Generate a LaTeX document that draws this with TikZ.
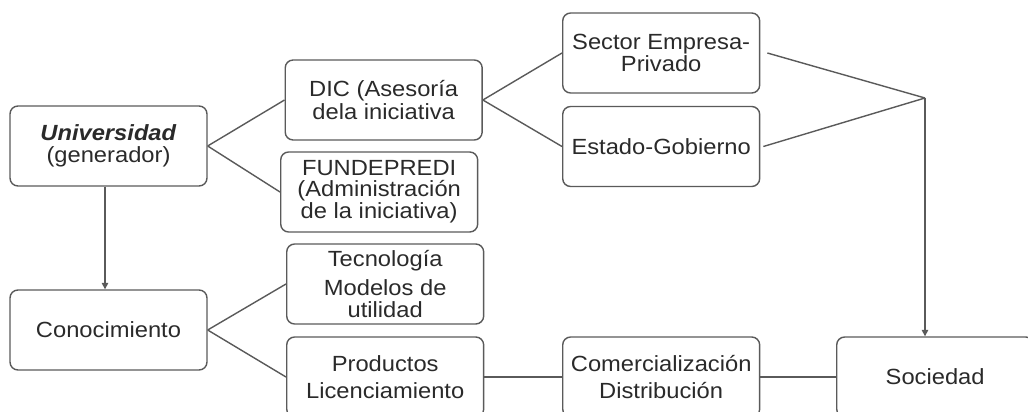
\documentclass[tikz,border=0pt]{standalone}
\usepackage{fontspec}
\setmainfont[FakeStretch=1.08]{Liberation Sans}
\usetikzlibrary{arrows.meta}
\definecolor{linegray}{HTML}{5A5A5A}
\definecolor{textgray}{HTML}{2A2A2A}

\begin{document}
\begin{tikzpicture}[x=0.02cm,y=-0.02cm,
    box/.style={draw=linegray,line width=0.8pt,rounded corners=4.5pt,align=center,
        minimum width=3.94cm,minimum height=1.6cm,inner sep=1pt,text=textgray,
        font=\fontsize{12.5}{11.6}\selectfont},
    link/.style={draw=linegray,line width=0.8pt},
    arr/.style={link,-{Triangle[length=3.6pt,width=3.6pt]}}]
    \useasboundingbox (0,0) rectangle (1028,412);
    \clip (0,0) rectangle (1028,412);
    % left column
    \node[box] (univ) at (108.5,146) {\textbf{\textit{Universidad}}\\[1pt](generador)};
    \node[box] (conoc) at (108.5,330) {Conocimiento};
    % second column
    \node[box] (dic) at (284.5,100)[anchor=west] {DIC (Asesoría\\dela iniciativa};
    \node[box] (funde) at (280,192)[anchor=west] {FUNDEPREDI\\(Administración\\de la iniciativa)};
    \node[box] (tecno) at (286,284)[anchor=west] {Tecnología\\[4pt]Modelos de\\[0.5pt]utilidad};
    \node[box] (produ) at (286,377)[anchor=west] {Productos\\[4pt]Licenciamiento};
    % third column
    \node[box] (sector) at (562,53)[anchor=west] {Sector Empresa-\\Privado};
    \node[box] (estado) at (562,146.5)[anchor=west] {Estado-Gobierno};
    \node[box] (comer) at (562,377)[anchor=west] {Comercialización\\[4pt]Distribución};
    % right
    \node[box] (soc) at (836,377)[anchor=west] {Sociedad};
    \coordinate (jn) at (925,98);
    % connectors
    \draw[arr] (univ.south -| 105,0) -- (conoc.north -| 105,0);
    \draw[link] (univ.east) -- (dic.west);
    \draw[link] (univ.east) -- (funde.west);
    \draw[link] (dic.east) -- (sector.west);
    \draw[link] (dic.east) -- (estado.west);
    \draw[link] (conoc.east) -- (tecno.west);
    \draw[link] (conoc.east) -- (produ.west);
    \draw[link] (produ.east) -- (comer.west);
    \draw[link] (comer.east) -- (soc.west);
    \draw[link] ([xshift=0.14cm]sector.east) -- (jn);
    \draw[link] ([xshift=0.06cm]estado.east) -- (jn);
    \draw[arr] (jn) -- (jn |- soc.north);
\end{tikzpicture}
\end{document}
